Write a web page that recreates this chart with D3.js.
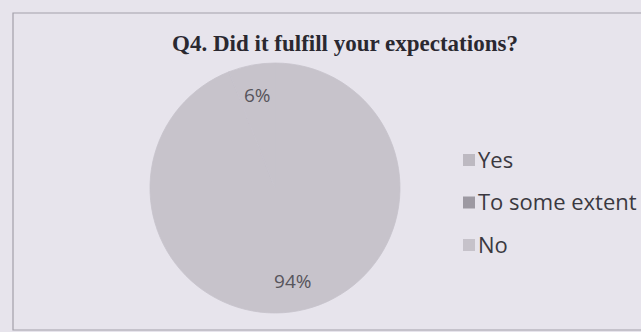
<!DOCTYPE html>
<html>
<head>
<meta charset="utf-8">
<script src="https://cdn.jsdelivr.net/npm/d3@7/dist/d3.min.js"></script>
<style>
  html, body { margin: 0; padding: 0; background: #e7e4ec; }
  svg { display: block; }
</style>
</head>
<body>
<svg id="chart" width="641" height="332"></svg>
<script>
// Survey answers for Q4
const categories = ["Yes", "To some extent", "No"];
const values = [94, 6, 0];
const sliceColors = ["#c7c3cb", "#c7c3cb", "#c7c3cb"];
const swatchColors = ["#bdb9c1", "#9d99a2", "#c6c2ca"];
const title = "Q4. Did it fulfill your expectations?";

const svg = d3.select("#chart");
const W = 641, H = 332;

svg.append("rect").attr("width", W).attr("height", H).attr("fill", "#e7e4ec");

// chart frame (left, top and bottom edges)
svg.append("path")
  .attr("d", "M641,330 L13,330 L13,13 L641,13")
  .attr("fill", "none")
  .attr("stroke", "#a3a0a9")
  .attr("stroke-width", 1.2);

svg.append("text")
  .attr("x", 345).attr("y", 51)
  .attr("text-anchor", "middle")
  .attr("font-family", "Liberation Serif, serif")
  .attr("font-weight", "bold")
  .attr("font-size", 23)
  .attr("fill", "#2a2830")
  .text(title);

const cx = 275, cy = 188, r = 125;
const data = categories.map((c, i) => ({ category: c, value: values[i] }));

const pie = d3.pie().sort(null).value(d => d.value);
const arc = d3.arc().innerRadius(0).outerRadius(r);
const labelArc = d3.arc().innerRadius(r * 0.76).outerRadius(r * 0.76);

const g = svg.append("g").attr("transform", `translate(${cx},${cy})`);
const arcs = pie(data);

g.selectAll("path.slice")
  .data(arcs)
  .join("path")
  .attr("class", "slice")
  .attr("d", arc)
  .attr("fill", (d, i) => sliceColors[i])
  .attr("stroke", (d, i) => sliceColors[i])
  .attr("stroke-width", 0.8);

g.selectAll("text.pct")
  .data(arcs.filter(d => d.data.value > 0))
  .join("text")
  .attr("class", "pct")
  .attr("transform", d => {
    const [x, y] = labelArc.centroid(d);
    return `translate(${x},${y})`;
  })
  .attr("text-anchor", "middle")
  .attr("dy", "0.36em")
  .attr("font-family", "Open Sans, sans-serif")
  .attr("font-size", 19)
  .attr("fill", "#57555c")
  .text(d => d.data.value + "%");

// legend
const legend = svg.append("g").attr("transform", "translate(463,160)");
const item = legend.selectAll("g.item")
  .data(categories)
  .join("g")
  .attr("class", "item")
  .attr("transform", (d, i) => `translate(0,${i * 42.5})`);

item.append("rect")
  .attr("x", 0).attr("y", -6)
  .attr("width", 12).attr("height", 12)
  .attr("fill", (d, i) => swatchColors[i]);

item.append("text")
  .attr("x", 15).attr("y", 0)
  .attr("dy", "0.36em")
  .attr("font-family", "Open Sans, sans-serif")
  .attr("font-size", 22)
  .attr("fill", "#3a3840")
  .text(d => d);
</script>
</body>
</html>
